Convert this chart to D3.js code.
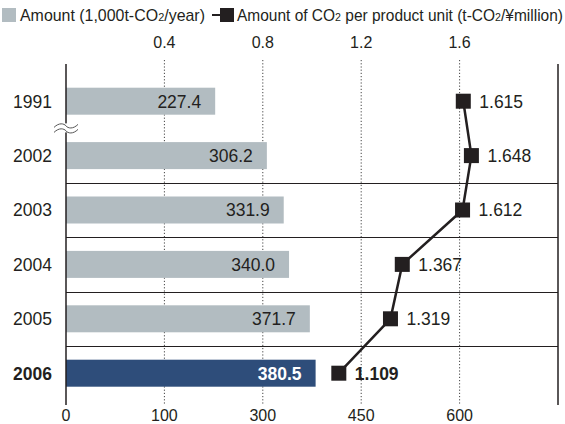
<!DOCTYPE html>
<html>
<head>
<meta charset="utf-8">
<script src="https://cdn.jsdelivr.net/npm/d3@7/dist/d3.min.js"></script>
<style>
  html, body { margin: 0; padding: 0; background: #fff; }
  svg { display: block; font-family: "Liberation Sans", Arial, Helvetica, sans-serif; }
  .legend-seg { white-space: pre; }
</style>
</head>
<body>
<svg id="chart" width="565" height="424"></svg>
<script>
// Emission data per year
const years = ["1991", "2002", "2003", "2004", "2005", "2006"];
const amounts = [227.4, 306.2, 331.9, 340.0, 371.7, 380.5];          // 1,000t-CO2/year
const perUnit = [1.615, 1.648, 1.612, 1.367, 1.319, 1.109];          // t-CO2/¥million

// Axis ticks
const bottomTickValues = [0, 150, 300, 450, 600];
const bottomTickLabels = ["0", "100", "300", "450", "600"];
const topTickValues = [0.4, 0.8, 1.2, 1.6];
const topTickLabels = ["0.4", "0.8", "1.2", "1.6"];

const svg = d3.select("#chart");
const ink = "#231f20";
const grey = "#b2bcc1";
const navy = "#2e4d7a";

const left = 66, right = 558, plotTop = 64, plotBottom = 405;
const x = d3.scaleLinear().domain([0, 750]).range([left, right]);
const xTop = d3.scaleLinear().domain([0, 2]).range([left, right]);
const y = d3.scaleBand().domain(years).range([74, 400.4]).padding(0);
const barH = 27;
const latest = years[years.length - 1];

// Dotted gridlines (shared by both axes)
svg.append("g").selectAll("line")
  .data(bottomTickValues.slice(1))
  .join("line")
  .attr("x1", d => x(d)).attr("x2", d => x(d))
  .attr("y1", 60).attr("y2", plotBottom)
  .attr("stroke", "#444").attr("stroke-width", 1)
  .attr("stroke-dasharray", "1.2,2");

// Row separators
svg.append("g").selectAll("line")
  .data(years.slice(2))
  .join("line")
  .attr("x1", left).attr("x2", right)
  .attr("y1", d => Math.round(y(d)) + 0.5).attr("y2", d => Math.round(y(d)) + 0.5)
  .attr("stroke", ink).attr("stroke-width", 1);

// Bars
const rows = years.map((yr, i) => ({ yr, amount: amounts[i], unit: perUnit[i] }));
svg.append("g").selectAll("rect")
  .data(rows)
  .join("rect")
  .attr("x", left)
  .attr("y", d => y(d.yr) + y.bandwidth() / 2 - barH / 2)
  .attr("width", d => x(d.amount) - left)
  .attr("height", barH)
  .attr("fill", d => d.yr === latest ? navy : grey);

// Bar value labels
svg.append("g").selectAll("text")
  .data(rows)
  .join("text")
  .attr("x", d => x(d.amount) - 14)
  .attr("y", d => y(d.yr) + y.bandwidth() / 2)
  .attr("dy", "0.36em")
  .attr("text-anchor", "end")
  .attr("font-size", 17.5)
  .attr("font-weight", d => d.yr === latest ? "bold" : "normal")
  .attr("fill", d => d.yr === latest ? "#fff" : "#231f20")
  .text(d => d.amount.toFixed(1));

// Year labels
svg.append("g").selectAll("text")
  .data(rows)
  .join("text")
  .attr("x", 52)
  .attr("y", d => y(d.yr) + y.bandwidth() / 2)
  .attr("dy", "0.36em")
  .attr("text-anchor", "end")
  .attr("font-size", 17.5)
  .attr("font-weight", d => d.yr === latest ? "bold" : "normal")
  .attr("fill", ink)
  .text(d => d.yr);

// Frame: left axis and right border
svg.append("line").attr("x1", left).attr("x2", left).attr("y1", plotTop).attr("y2", plotBottom)
  .attr("stroke", ink).attr("stroke-width", 1.5);
svg.append("line").attr("x1", right).attr("x2", right).attr("y1", plotTop).attr("y2", plotBottom)
  .attr("stroke", ink).attr("stroke-width", 1.5);

// Axis break between 1991 and 2002
const breakY = y(years[1]);
const brk = svg.append("g");
brk.append("rect").attr("x", left - 3).attr("y", breakY - 5).attr("width", 6).attr("height", 9).attr("fill", "#fff");
[-2.5, 2.5].forEach(off => {
  const yy = breakY + off;
  brk.append("path")
    .attr("d", `M${left - 12},${yy + 1.5} C${left - 7},${yy - 3.5} ${left - 2},${yy - 2.5} ${left},${yy} S${left + 7},${yy + 3.5} ${left + 12},${yy - 1.5}`)
    .attr("fill", "none").attr("stroke", "#555").attr("stroke-width", 1);
});

// Per-unit line and markers
const pts = rows.map(d => [xTop(d.unit), y(d.yr) + y.bandwidth() / 2]);
svg.append("path")
  .attr("d", d3.line()(pts))
  .attr("fill", "none").attr("stroke", ink).attr("stroke-width", 2.5);
const ms = 15;
svg.append("g").selectAll("rect")
  .data(rows)
  .join("rect")
  .attr("x", d => xTop(d.unit) - ms / 2)
  .attr("y", d => y(d.yr) + y.bandwidth() / 2 - ms / 2)
  .attr("width", ms).attr("height", ms)
  .attr("fill", ink);
svg.append("g").selectAll("text")
  .data(rows)
  .join("text")
  .attr("x", d => xTop(d.unit) + 16)
  .attr("y", d => y(d.yr) + y.bandwidth() / 2)
  .attr("dy", "0.36em")
  .attr("font-size", 17.5)
  .attr("font-weight", d => d.yr === latest ? "bold" : "normal")
  .attr("fill", ink)
  .text(d => d.unit.toFixed(3));

// Top axis labels
svg.append("g").selectAll("text")
  .data(topTickValues)
  .join("text")
  .attr("x", d => xTop(d))
  .attr("y", 48)
  .attr("text-anchor", "middle")
  .attr("font-size", 16)
  .attr("fill", ink)
  .text((d, i) => topTickLabels[i]);

// Bottom axis labels
svg.append("g").selectAll("text")
  .data(bottomTickValues)
  .join("text")
  .attr("x", d => x(d))
  .attr("y", 421)
  .attr("text-anchor", "middle")
  .attr("font-size", 16)
  .attr("fill", ink)
  .text((d, i) => bottomTickLabels[i]);

// Legend: each label is a run of text segments (subscript "2" in CO2),
// laid out end to end and then condensed horizontally to the target width.
function legendLabel(x0, baseline, width, segments) {
  const g = svg.append("g");
  let cx = 0;
  segments.forEach(([txt, sub]) => {
    const t = g.append("text")
      .attr("class", "legend-seg")
      .attr("xml:space", "preserve")
      .attr("x", cx)
      .attr("y", 0)
      .attr("font-size", sub ? 11 : 16)
      .attr("fill", ink)
      .text(txt);
    cx += t.node().getComputedTextLength();
  });
  g.attr("transform", `translate(${x0},${baseline}) scale(${width / cx},1)`);
}

svg.append("rect").attr("x", 2).attr("y", 8).attr("width", 14).attr("height", 14).attr("fill", grey);
legendLabel(20, 21, 185, [["Amount (1,000t-CO"], ["2", true], ["/year)"]]);
svg.append("line").attr("x1", 212).attr("x2", 223).attr("y1", 15).attr("y2", 15)
  .attr("stroke", ink).attr("stroke-width", 2);
svg.append("rect").attr("x", 220).attr("y", 8).attr("width", 14).attr("height", 14).attr("fill", ink);
legendLabel(237, 21, 326, [["Amount of CO"], ["2", true], [" per product unit (t-CO"], ["2", true], ["/¥million)"]]);
</script>
</body>
</html>
